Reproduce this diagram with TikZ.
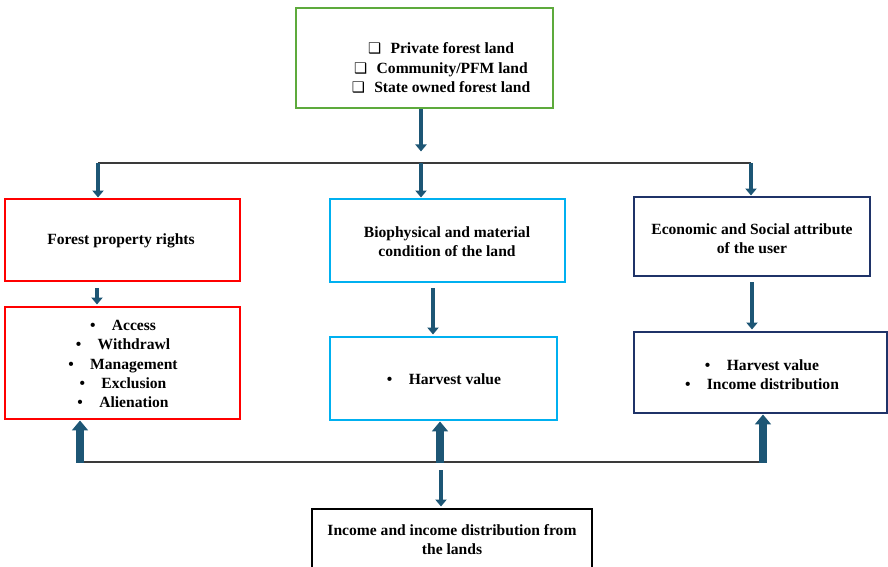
\documentclass[tikz,border=0pt]{standalone}
\usepackage{fontspec}
\setmainfont{Liberation Serif}
\newfontfamily\symfont{DejaVu Sans}
\usepackage{xcolor}
\usepackage{tikz}
\usetikzlibrary{positioning, arrows.meta, calc, fit}

\definecolor{landgreen}{HTML}{5DAA3C}
\definecolor{rightsred}{HTML}{FF0000}
\definecolor{biocyan}{HTML}{00B0F0}
\definecolor{usernavy}{HTML}{1F3368}
\definecolor{arrowteal}{HTML}{1D5675}
\definecolor{busgray}{HTML}{3A3A3A}

\newcommand{\bitem}[1]{\textbullet\hspace{14pt}#1}
\newcommand{\sqitem}[1]{{\symfont\fontsize{12.5}{14}\selectfont ❑}\hspace{8pt}#1}

\begin{document}
\begin{tikzpicture}[x=0.03cm, y=-0.03cm,
    font=\fontsize{13.3}{16.6}\selectfont\bfseries,
    box/.style={inner sep=0pt, line width=2.5pt},
    txt/.style={align=center, inner sep=0pt},
    bus/.style={draw=busgray, line width=1.3pt},
    downarrow/.style={draw=arrowteal, line width=4.2pt, -{Triangle[width=9.5pt,length=6pt]}},
    uparrow/.style={draw=arrowteal, line width=7pt, -{Triangle[width=13.5pt,length=8.5pt]}}]
        \clip (0,0) rectangle (888,567);

        % Land types
        \node[box, draw=landgreen, fit={(296,8) (553,108)}] (land) {};
        \node[txt] (landtext) at (441,68) {\sqitem{Private forest land}\\
            \sqitem{Community/PFM land}\\ \sqitem{State owned forest land}};

        % Three attributes
        \node[box, draw=rightsred, fit={(5,199) (240,281)}] (rights) {};
        \node[txt] (rightstext) at (121,241) {Forest property rights};

        \node[box, draw=biocyan, fit={(330,199) (565,282)}] (biophys) {};
        \node[txt] (biophystext) at (447,241.5) {Biophysical and material\\ condition of the land};

        \node[box, draw=usernavy, fit={(634,197) (870,276)}] (user) {};
        \node[txt] (usertext) at (752,238.5) {Economic and Social attribute\\ of the user};

        % Outcomes
        \node[box, draw=rightsred, fit={(5,307) (240,419)}] (rightsout) {};
        \node[txt] (rightsouttext) at (123,364) {\bitem{Access}\\ \bitem{Withdrawl}\\
            \bitem{Management}\\ \bitem{Exclusion}\\ \bitem{Alienation}};

        \node[box, draw=biocyan, fit={(330,337) (557,420)}] (biophysout) {};
        \node[txt] (biophysouttext) at (444,379) {\bitem{Harvest value}};

        \node[box, draw=usernavy, fit={(634,332) (887,413)}] (userout) {};
        \node[txt] (userouttext) at (762,374.5) {\bitem{Harvest value}\\ \bitem{Income distribution}};

        \node[box, draw=black, fit={(312,509) (592,580)}] (income) {};
        \node[txt] (incometext) at (452,539.5) {Income and income distribution from\\ the lands};

        % Top split
        \coordinate (splitL) at (98,163);
        \coordinate (splitM) at (421,163);
        \coordinate (splitR) at (751,163);
        \draw[bus] (splitL) -- (splitR);
        \draw[downarrow] (land.south -| splitM) -- ++(0,42);
        \draw[downarrow] (splitL) -- (splitL |- rights.north);
        \draw[downarrow] (splitM) -- (splitM |- biophys.north);
        \draw[downarrow] (splitR) -- (splitR |- user.north);

        % Attribute to outcome
        \draw[downarrow] ([shift={(-25.5,6)}]rights.south) -- ([shift={(-25.5,-1)}]rightsout.north);
        \draw[downarrow] ([shift={(-14.5,5)}]biophys.south) -- ([shift={(-10.5,-1)}]biophysout.north);
        \draw[downarrow] ([shift={(0,5)}]user.south) -- ([shift={(-8.5,-1)}]userout.north);

        % Bottom join
        \coordinate (joinL) at (80,462);
        \coordinate (joinM) at (440,462);
        \coordinate (joinR) at (763,462);
        \draw[bus] (joinL) -- (joinR);
        \draw[uparrow] ([yshift=-0.6pt]joinL) -- (joinL |- rightsout.south);
        \draw[uparrow] ([yshift=-0.6pt]joinM) -- (joinM |- biophysout.south);
        \draw[uparrow] ([yshift=-0.6pt]joinR) -- (joinR |- userout.south);
        \draw[downarrow] ([shift={(1,8)}]joinM) -- ([shift={(1,-1)}]joinM |- income.north);
      \end{tikzpicture}
\end{document}
